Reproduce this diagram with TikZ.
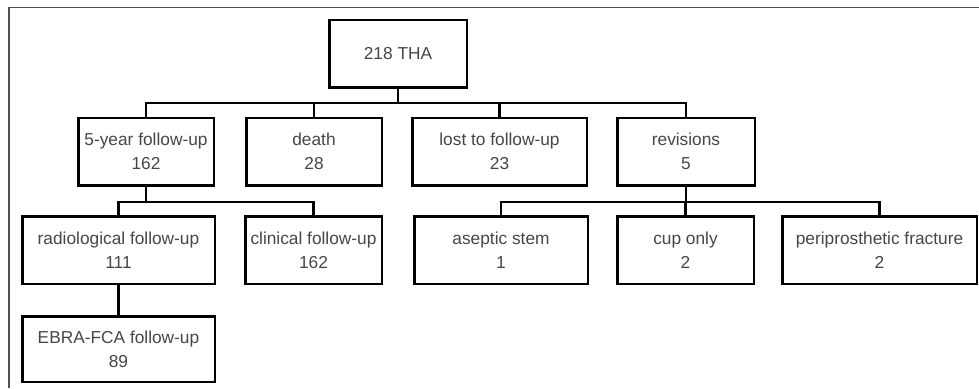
\documentclass[tikz,border=0pt]{standalone}
\usepackage{fontspec}
\setmainfont{Liberation Sans}
\usepackage{tikz}
\usetikzlibrary{positioning, calc}
\usepackage{xcolor}
\definecolor{txt}{RGB}{70,70,70}
\definecolor{frame}{RGB}{80,80,80}

\begin{document}
\begin{tikzpicture}[x=1pt, y=-1pt,
   every node/.style={font=\fontsize{17.3}{24}\selectfont},
   box/.style={draw, line width=2.5pt, minimum height=67.5pt, inner sep=0pt,
               align=center, text=txt},
   link/.style={line width=2.5pt}]
  \useasboundingbox (0,0) rectangle (979,388);

  % outer frame (cut off at right and bottom)
  \draw[frame, line width=1.5pt] (9,388) -- (9,7.5) -- (979,7.5);

  % top
  \node[box, minimum width=137.5pt] (tha) at (398,53.5) {218 THA};

  % first level
  \node[box, minimum width=135.5pt] (fu5)   at (146,151.5) {5-year follow-up\\162};
  \node[box, minimum width=135.5pt] (death) at (314,151.5) {death\\28};
  \node[box, minimum width=174.5pt] (lost)  at (499.5,151.5) {lost to follow-up\\23};
  \node[box, minimum width=137.5pt] (rev)   at (686,151.5) {revisions\\5};

  % second level
  \node[box, minimum width=192.5pt] (rad)  at (118.5,250) {radiological follow-up\\111};
  \node[box, minimum width=136.5pt] (clin) at (313.5,250) {clinical follow-up\\162};
  \node[box, minimum width=173.5pt] (asep) at (501,250) {aseptic stem\\1};
  \node[box, minimum width=136.5pt] (cup)  at (685.5,250) {cup only\\2};
  \node[box, minimum width=194.5pt] (peri) at (879.5,250) {periprosthetic fracture\\2};

  % third level
  \node[box, minimum width=192.5pt, minimum height=65.5pt] (ebra) at (118.5,349) {EBRA-FCA follow-up\\89};

  % buses
  \coordinate (bus1) at (398,103);
  \coordinate (bus2) at (146,202);
  \coordinate (bus3) at (686,202);

  \draw[link] (tha.south) -- (bus1);
  \draw[link] (bus1) -| (fu5.north);
  \draw[link] (bus1) -| (death.north);
  \draw[link] (bus1) -| (lost.north);
  \draw[link] (bus1) -| (rev.north);

  \draw[link] (fu5.south) -- (bus2);
  \draw[link] (bus2) -| (rad.north);
  \draw[link] (bus2) -| (clin.north);

  \draw[link] (rev.south) -- (bus3);
  \draw[link] (bus3) -| (asep.north);
  \draw[link] (bus3) -| (cup.north);
  \draw[link] (bus3) -| (peri.north);

  \draw[link] (rad.south) -- (ebra.north);
\end{tikzpicture}
\end{document}
